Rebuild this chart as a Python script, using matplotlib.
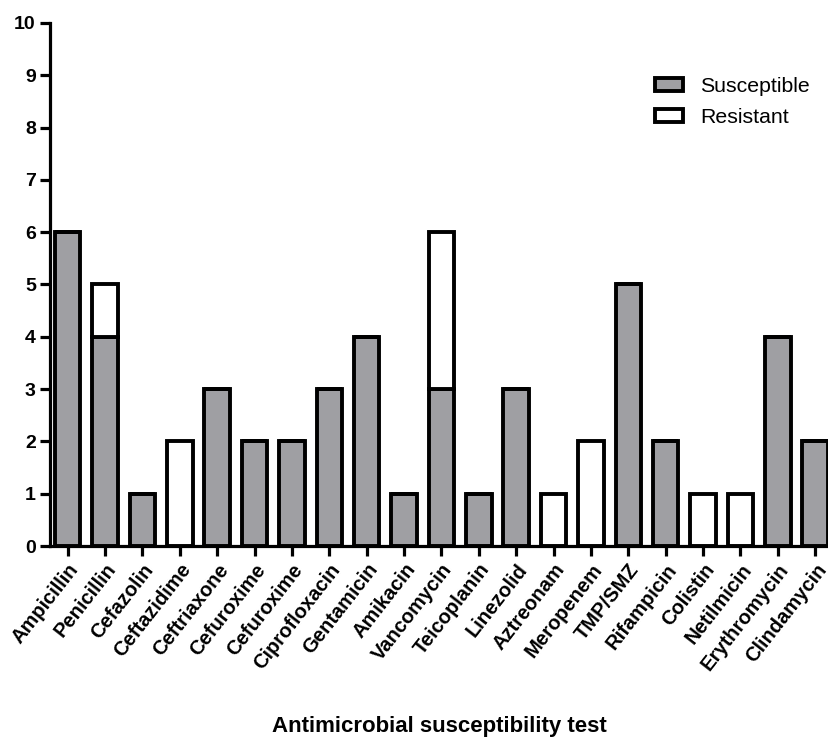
import matplotlib.pyplot as plt
import numpy as np

plt.rcParams['font.family'] = ['Liberation Sans', 'DejaVu Sans']

drugs = ['Ampicillin', 'Penicillin', 'Cefazolin', 'Ceftazidime', 'Ceftriaxone',
         'Cefuroxime', 'Cefuroxime', 'Ciprofloxacin', 'Gentamicin', 'Amikacin',
         'Vancomycin', 'Teicoplanin', 'Linezolid', 'Aztreonam', 'Meropenem',
         'TMP/SMZ', 'Rifampicin', 'Colistin', 'Netilmicin', 'Erythromycin',
         'Clindamycin']
susceptible = [6, 4, 1, 0, 3, 2, 2, 3, 4, 1, 3, 1, 3, 0, 0, 5, 2, 0, 0, 4, 2]
resistant = [0, 1, 0, 2, 0, 0, 0, 0, 0, 0, 3, 0, 0, 1, 2, 0, 0, 1, 1, 0, 0]

fig = plt.figure(figsize=(8.29, 7.37), dpi=100)
ax = fig.add_axes([0.060, 0.259, 0.94, 0.710])

x = np.arange(len(drugs))
lw = 2.8
ax.bar(x, susceptible, width=0.68, color='#9f9fa3', edgecolor='black',
       linewidth=lw, label='Susceptible')
ax.bar(x, resistant, width=0.68, bottom=susceptible, color='white',
       edgecolor='black', linewidth=lw, label='Resistant')

ax.set_xlim(-0.48, 20.37)
ax.set_ylim(0, 10)
ax.set_yticks(range(0, 11))
ax.set_xticks(x)
ax.set_xticklabels(drugs, rotation=52, ha='right', rotation_mode='anchor',
                   fontsize=14.5, fontweight='bold')
for lab in ax.get_yticklabels():
    lab.set_fontweight('bold')
    lab.set_fontsize(14)

for side in ['top', 'right']:
    ax.spines[side].set_visible(False)
for side in ['left', 'bottom']:
    ax.spines[side].set_linewidth(2.3)
ax.tick_params(axis='both', width=2.3, length=7, direction='out', pad=3)

ax.set_xlabel('Antimicrobial susceptibility test', fontsize=16,
              fontweight='bold')
ax.xaxis.set_label_coords(0.5, -0.325)

ax.legend(loc='upper left', bbox_to_anchor=(655 / 829, 1 - 77 / 737),
          bbox_transform=fig.transFigure, frameon=False, fontsize=15.3,
          handlelength=1.32, handleheight=0.52, handletextpad=0.8,
          labelspacing=0.56, borderpad=0, borderaxespad=0)

fig.savefig('out.png', dpi=100)
